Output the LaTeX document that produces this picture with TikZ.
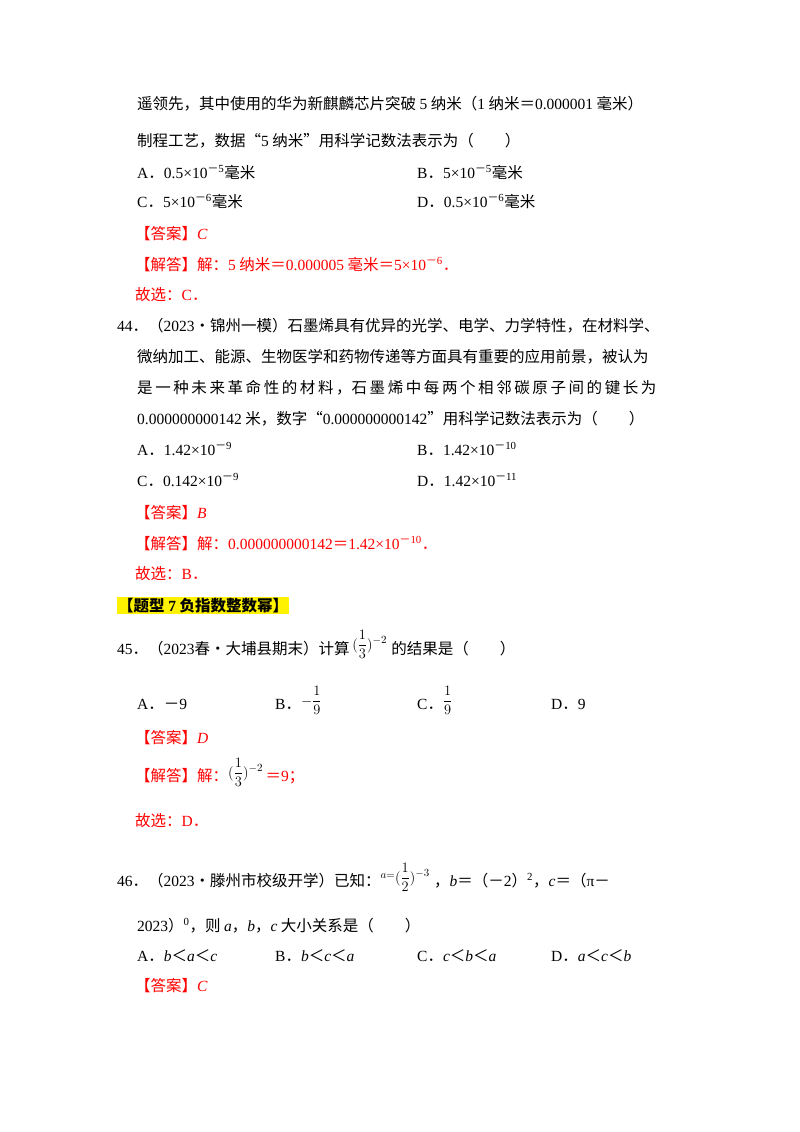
\documentclass[tikz,border=0pt]{standalone}
\usepackage{fontspec}
\setmainfont{Noto Sans CJK SC}
\newfontfamily\lt{Liberation Serif}
\newcommand{\ssp}[1]{\textsuperscript{\rmfamily －{\lt #1}}}
\newcommand{\LL}[1]{{\lt #1}}
\newcommand{\II}[1]{{\lt\itshape #1}}
\newcommand{\fr}[2]{{\displaystyle\frac{#1}{#2}}}
\begin{document}
\begin{tikzpicture}[x=1pt,y=-1pt,
  t/.style={anchor=base west,inner sep=0pt,font=\fontsize{15.5}{16}\selectfont},
  r/.style={t,text=red}]
\useasboundingbox[fill=white] (0,0) rectangle (800,1132);
\node[t] (l1) at (137,109) {遥领先，其中使用的华为新麒麟芯片突破 \LL{5} 纳米（\LL{1} 纳米＝\LL{0.000001} 毫米）};
\node[t] (l2) at (137,146) {制程工艺，数据“\LL{5} 纳米”用科学记数法表示为（\quad\quad）};
\node[t] (a1) at (137,178) {\LL{A}．\LL{0.5×10}\ssp{5}毫米};
\node[t] (b1) at (417,178) {\LL{B}．\LL{5×10}\ssp{5}毫米};
\node[t] (c1) at (137,207) {\LL{C}．\LL{5×10}\ssp{6}毫米};
\node[t] (d1) at (417,207) {\LL{D}．\LL{0.5×10}\ssp{6}毫米};
\node[r] (ans1) at (135,239) {【答案】\II{C}};
\node[r] (sol1) at (135,270) {【解答】解：\LL{5} 纳米＝\LL{0.000005} 毫米＝\LL{5×10}\ssp{6}．};
\node[r] (sel1) at (135,300) {故选：\LL{C}．};
\node[t] (q44) at (117,331) {\LL{44}．（\LL{2023}•锦州一模）石墨烯具有优异的光学、电学、力学特性，在材料学、};
\node[t] (q44b) at (137,362) {微纳加工、能源、生物医学和药物传递等方面具有重要的应用前景，被认为};
\node[t] (q44c) at (137,393) {是\,一\,种\,未\,来\,革\,命\,性\,的\,材\,料\,，石\,墨\,烯\,中\,每\,两\,个\,相\,邻\,碳\,原\,子\,间\,的\,键\,长\,为};
\node[t] (q44d) at (137,424) {\LL{0.000000000142} 米，数字“\LL{0.000000000142}”用科学记数法表示为（\quad\quad）};
\node[t] (a2) at (137,455) {\LL{A}．\LL{1.42×10}\ssp{9}};
\node[t] (b2) at (417,455) {\LL{B}．\LL{1.42×10}\ssp{10}};
\node[t] (c2) at (137,486) {\LL{C}．\LL{0.142×10}\ssp{9}};
\node[t] (d2) at (417,486) {\LL{D}．\LL{1.42×10}\ssp{11}};
\node[r] (ans2) at (135,518) {【答案】\II{B}};
\node[r] (sol2) at (135,549) {【解答】解：\LL{0.000000000142}＝\LL{1.42×10}\ssp{10}．};
\node[r] (sel2) at (135,579) {故选：\LL{B}．};
\node[t,fill=yellow,inner sep=1pt,font=\fontsize{15.5}{16}\selectfont\bfseries] (hd) at (117,611) {【题型 \LL{\bfseries 7} 负指数整数幂】};
\node[t] (q45) at (117,654) {\LL{45}．（\LL{2023}春•大埔县期末）计算\,\raisebox{5pt}{$(\fr{1}{3})^{-2}$}\;的结果是（\quad\quad）};
\node[t] (a3) at (137,709) {\LL{A}．－\LL{9}};
\node[t] (b3) at (275,709) {\LL{B}．\raisebox{4pt}{$-\fr{1}{9}$}};
\node[t] (c3) at (417,709) {\LL{C}．\raisebox{4pt}{$\fr{1}{9}$}};
\node[t] (d3) at (551,709) {\LL{D}．\LL{9}};
\node[r] (ans3) at (135,743) {【答案】\II{D}};
\node[r] (sol3) at (135,781) {【解答】解：\raisebox{4pt}{\color{black}$(\fr{1}{3})^{-2}$}\,＝\LL{9}；};
\node[r] (sel3) at (135,826) {故选：\LL{D}．};
\node[t] (q46) at (117,886) {\LL{46}．（\LL{2023}•滕州市校级开学）已知：\raisebox{8pt}{$\scriptstyle a=$}\raisebox{4pt}{$(\fr{1}{2})^{-3}$}\;，\II{b}＝（－\LL{2}）\textsuperscript{\LL{2}}，\II{c}＝（\LL{π}－};
\node[t] (q46b) at (137,931) {\LL{2023}）\textsuperscript{\LL{0}}，则 \II{a}，\II{b}，\II{c} 大小关系是（\quad\quad）};
\node[t] (a4) at (137,961) {\LL{A}．\II{b}＜\II{a}＜\II{c}};
\node[t] (b4) at (275,961) {\LL{B}．\II{b}＜\II{c}＜\II{a}};
\node[t] (c4) at (417,961) {\LL{C}．\II{c}＜\II{b}＜\II{a}};
\node[t] (d4) at (551,961) {\LL{D}．\II{a}＜\II{c}＜\II{b}};
\node[r] (ans4) at (135,991) {【答案】\II{C}};
\end{tikzpicture}
\end{document}
